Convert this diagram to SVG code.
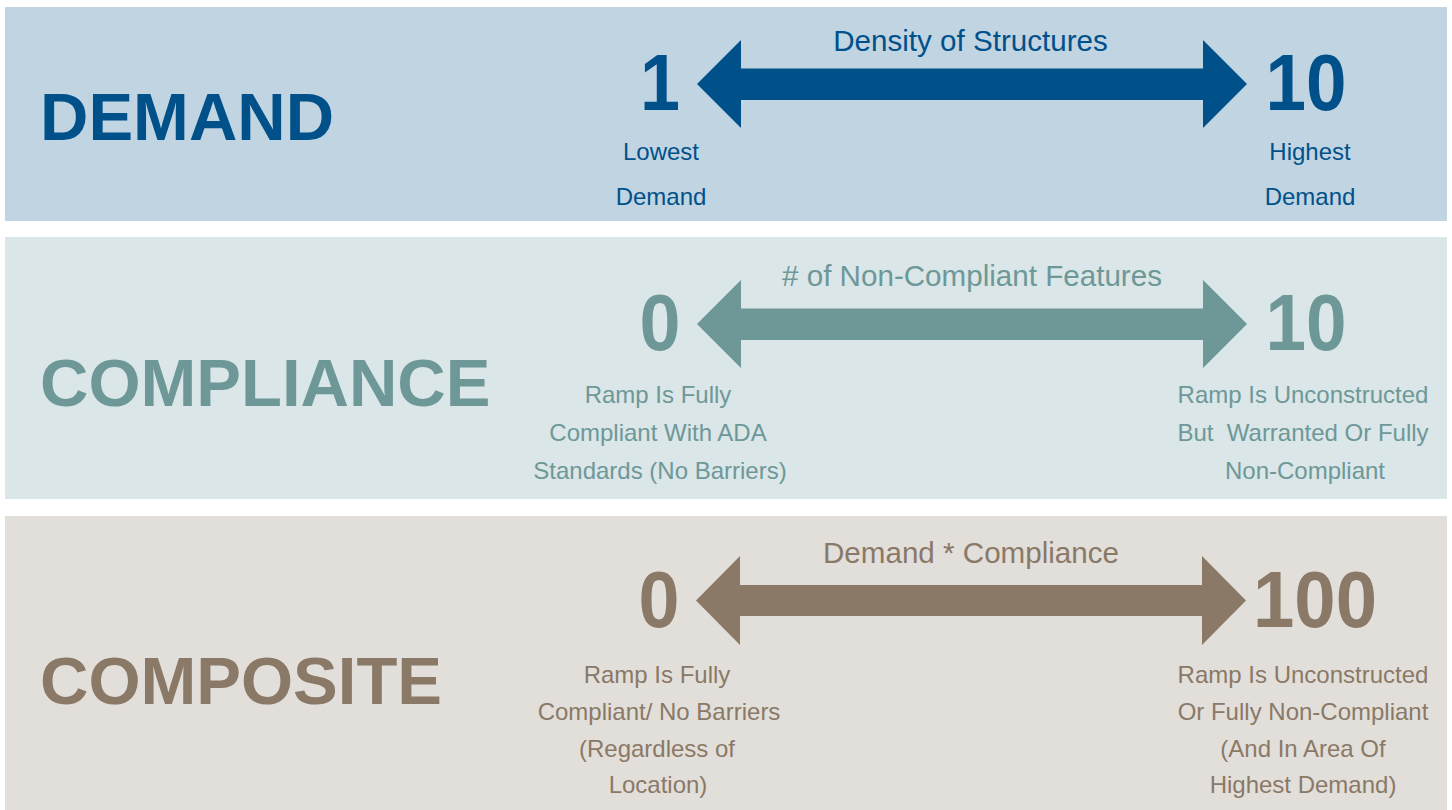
<svg xmlns="http://www.w3.org/2000/svg" width="1452" height="810" viewBox="0 0 1452 810">
<style>
text { font-family: "Liberation Sans", Arial, sans-serif; }
.title { font-size: 67px; font-weight: bold; }
.num { font-size: 80px; font-weight: bold; text-anchor: middle; }
.head { font-size: 29.6px; text-anchor: middle; }
.lbl { font-size: 24px; text-anchor: middle; }
.blue { fill: #00518A; }
.teal { fill: #6E9898; }
.brown { fill: #8A7967; }
</style>
<rect width="1452" height="810" fill="#FFFFFF"/>
<g id="demand">
  <rect x="5" y="7" width="1442" height="214" fill="#C1D4E2"/>
  <text class="title blue" x="40" y="140">DEMAND</text>
  <text class="head blue" x="970.5" y="51">Density of Structures</text>
  <text class="num blue" x="660" y="110" textLength="40" lengthAdjust="spacingAndGlyphs">1</text>
  <text class="num blue" x="1306" y="110" textLength="81" lengthAdjust="spacingAndGlyphs">10</text>
  <text class="lbl blue" x="661" y="159.5">Lowest</text>
  <text class="lbl blue" x="661" y="205">Demand</text>
  <text class="lbl blue" x="1310" y="159.5">Highest</text>
  <text class="lbl blue" x="1310" y="205">Demand</text>
</g>
<g id="compliance">
  <rect x="5" y="237" width="1442" height="262" fill="#DAE6E7"/>
  <text class="title teal" x="40" y="406">COMPLIANCE</text>
  <text class="head teal" x="972" y="286">&#35; of Non-Compliant Features</text>
  <text class="num teal" x="660" y="350" textLength="41" lengthAdjust="spacingAndGlyphs">0</text>
  <text class="num teal" x="1306" y="350" textLength="81" lengthAdjust="spacingAndGlyphs">10</text>
  <text class="lbl teal" x="658" y="403">Ramp Is Fully</text>
  <text class="lbl teal" x="658" y="441">Compliant With ADA</text>
  <text class="lbl teal" x="660" y="478.5">Standards (No Barriers)</text>
  <text class="lbl teal" x="1303" y="403">Ramp Is Unconstructed</text>
  <text class="lbl teal" x="1303" y="441" xml:space="preserve">But  Warranted Or Fully</text>
  <text class="lbl teal" x="1305" y="478.5">Non-Compliant</text>
</g>
<g id="composite">
  <rect x="5" y="516" width="1442" height="294" fill="#E2DFDA"/>
  <text class="title brown" x="40" y="704">COMPOSITE</text>
  <text class="head brown" x="971" y="563">Demand * Compliance</text>
  <text class="num brown" x="659" y="627" textLength="41" lengthAdjust="spacingAndGlyphs">0</text>
  <text class="num brown" x="1315" y="627" textLength="124" lengthAdjust="spacingAndGlyphs">100</text>
  <text class="lbl brown" x="657" y="683">Ramp Is Fully</text>
  <text class="lbl brown" x="659" y="720">Compliant/ No Barriers</text>
  <text class="lbl brown" x="657" y="756.5">(Regardless of</text>
  <text class="lbl brown" x="658" y="793">Location)</text>
  <text class="lbl brown" x="1303" y="683">Ramp Is Unconstructed</text>
  <text class="lbl brown" x="1303" y="720">Or Fully Non-Compliant</text>
  <text class="lbl brown" x="1303" y="756.5">(And In Area Of</text>
  <text class="lbl brown" x="1303" y="793">Highest Demand)</text>
</g>
<g id="connectors">
  <path class="blue" d="M697,84 L741,40 L741,68.5 L1203,68.5 L1203,40 L1247,84 L1203,128 L1203,100 L741,100 L741,128 Z"/>
  <path class="teal" d="M697,324 L741,280 L741,308.5 L1203,308.5 L1203,280 L1247,324 L1203,368 L1203,340 L741,340 L741,368 Z"/>
  <path class="brown" d="M696,600.5 L740,556 L740,585 L1202,585 L1202,556 L1246,600.5 L1202,645 L1202,616 L740,616 L740,645 Z"/>
</g>
</svg>
